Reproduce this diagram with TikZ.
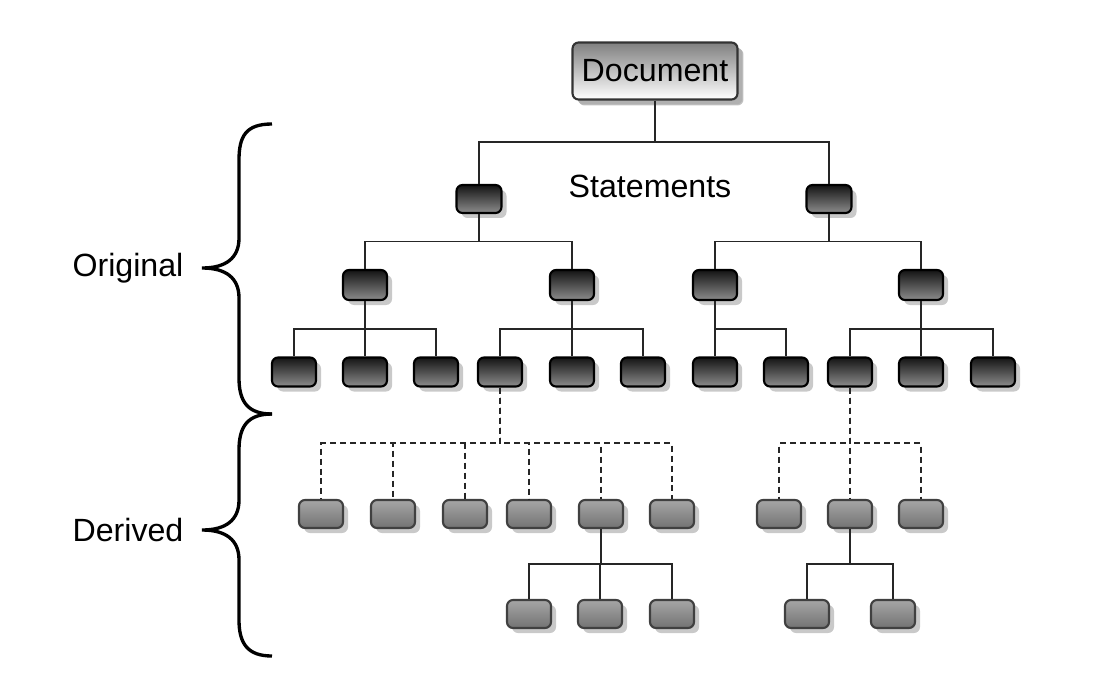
\documentclass[tikz,border=0pt]{standalone}
\usepackage{fontspec}
\setmainfont{Liberation Sans}
\usetikzlibrary{calc,shadows}

\begin{document}
\begin{tikzpicture}[x=0.02cm,y=-0.02cm,
  box/.style={rectangle,rounded corners=0.12cm,line width=1.2pt,inner sep=0pt,
    drop shadow={shadow xshift=0.1cm,shadow yshift=-0.1cm,fill=black!30,opacity=0.7}},
  orig/.style={box,draw=black,minimum width=0.88cm,minimum height=0.58cm,top color=black!92,bottom color=black!45},
  deriv/.style={box,draw=black!75,minimum width=0.88cm,minimum height=0.56cm,top color=black!35,bottom color=black!55},
  fork/.style={to path={(\tikztostart.south) |- ($(\tikztostart.south)!.5!(\tikztotarget.north)$) -| (\tikztotarget.north)}},
  tree/.style={line width=1pt,black!85},
  lbl/.style={font=\fontsize{18.3}{21}\selectfont}]
  \useasboundingbox (0,0) rectangle (1114,686);
  \node[box,draw=black!80,minimum width=3.3cm,minimum height=1.14cm,top color=black!50,bottom color=white,lbl,
    drop shadow={shadow xshift=0.12cm,shadow yshift=-0.12cm,fill=black!35,opacity=0.7}](doc) at (655,71){Document};
  \node[orig,minimum width=0.9cm,minimum height=0.56cm](s1) at (479,199){};
  \node[orig,minimum width=0.9cm,minimum height=0.56cm](s2) at (829,199){};
  \node[lbl](stm) at (650,186){Statements};
  \foreach \n/\x in {a1/365,a2/572,a3/715,a4/921}
    \node[orig,minimum height=0.6cm](\n) at (\x,285){};
  \foreach \n/\x in {b1/294,b2/365,b3/436,b4/500,b5/572,b6/643,b7/715,b8/786,b9/850,b10/921,b11/993}
    \node[orig](\n) at (\x,372){};
  \foreach \n/\x in {c1/321,c2/393,c3/465,c4/529,c5/601,c6/672,c7/779,c8/850,c9/921}
    \node[deriv](\n) at (\x,514){};
  \foreach \n/\x in {d1/529,d2/600,d3/672,d4/807,d5/893}
    \node[deriv](\n) at (\x,614){};
  \draw[tree] (doc) to[fork] (s1) (doc) to[fork] (s2);
  \draw[tree] (s1) to[fork] (a1) (s1) to[fork] (a2) (s2) to[fork] (a3) (s2) to[fork] (a4);
  \foreach \p/\c in {a1/b1,a1/b2,a1/b3,a2/b4,a2/b5,a2/b6,a3/b7,a3/b8,a4/b9,a4/b10,a4/b11,c5/d1,c5/d2,c5/d3,c8/d4,c8/d5}
    \draw[tree] (\p) to[fork] (\c);
  \foreach \p/\c in {b4/c1,b4/c2,b4/c3,b4/c4,b4/c5,b4/c6,b9/c7,b9/c8,b9/c9}
    \draw[tree,dash pattern=on 0.12cm off 0.08cm] (\p) to[fork] (\c);
  \draw[line width=1.9pt] (272,124) .. controls (246,124) and (239,136) .. (239,160) -- (239,238)
    .. controls (239,258) and (226,268) .. (202,268) .. controls (226,268) and (239,278) .. (239,298)
    -- (239,378) .. controls (239,402) and (248,414) .. (272,414);
  \draw[line width=1.9pt] (272,414) .. controls (248,414) and (239,426) .. (239,450) -- (239,500)
    .. controls (239,520) and (226,530) .. (202,530) .. controls (226,530) and (239,540) .. (239,560)
    -- (239,620) .. controls (239,644) and (248,656) .. (272,656);
  \node[lbl](org) at (128,268){Original};
  \node[lbl](der) at (128,530){Derived};
\end{tikzpicture}
\end{document}
